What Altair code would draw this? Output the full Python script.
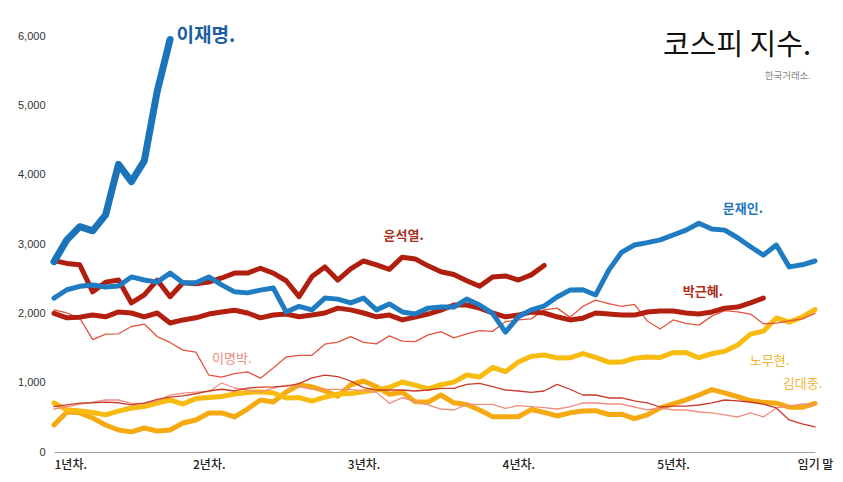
import altair as alt
import pandas as pd

# ---------------- data ----------------
TITLE = "코스피 지수."
SUBTITLE = "한국거래소."

X_TICKS = [0, 12, 24, 36, 48, 59]
X_TICK_LABELS = ["1년차.", "2년차.", "3년차.", "4년차.", "5년차.", "임기 말"]
Y_TICKS = [0, 1000, 2000, 3000, 4000, 5000, 6000]

ROH_TAEWOO = [620, 650, 690, 720, 750, 750, 700, 700, 740, 820,
              850, 865, 870, 995, 923, 894, 865, 923, 966, 945,
              904, 904, 904, 900, 885, 860, 702, 784, 726, 678,
              620, 606, 688, 688, 688, 630, 668, 654, 640, 620,
              650, 707, 707, 692, 692, 649, 606, 635, 606, 606,
              577, 563, 534, 505, 563, 505, 635, 663, 692, 678]

KIM_YOUNGSAM = [654, 680, 705, 710, 720, 710, 680, 705, 760, 790,
                810, 840, 880, 905, 880, 920, 935, 940, 950, 985,
                1070, 1110, 1087, 1024, 928, 894, 894, 894, 880, 894,
                918, 918, 976, 990, 942, 894, 880, 860, 880, 976,
                905, 822, 822, 779, 779, 736, 707, 649, 663, 663,
                678, 707, 750, 736, 721, 692, 635, 462, 404, 361]

KIM_DAEJUNG = [390, 577, 565, 490, 390, 317, 290, 346, 303, 317,
               418, 462, 563, 563, 505, 620, 750, 721, 865, 966,
               940, 880, 805, 970, 1024, 942, 832, 861, 726, 720,
               822, 710, 685, 605, 510, 510, 508, 612, 572, 520,
               565, 590, 596, 541, 546, 480, 535, 637, 693, 752,
               822, 900, 852, 797, 742, 716, 704, 646, 645, 700]

ROH_MOOHYUN = [707, 610, 590, 570, 535, 590, 635, 655, 707, 750,
               692, 770, 785, 800, 837, 858, 870, 851, 780, 785,
               735, 790, 835, 845, 868, 896, 932, 1010, 965, 911,
               970, 1008, 1110, 1083, 1220, 1158, 1297, 1379, 1399, 1357,
               1359, 1419, 1364, 1295, 1297, 1352, 1371, 1364, 1432, 1434,
               1360, 1417, 1452, 1542, 1700, 1743, 1933, 1873, 1946, 2055]

LEE_MYUNGBAK = [2050, 2005, 1930, 1620, 1700, 1705, 1810, 1845, 1665, 1580,
                1470, 1440, 1110, 1080, 1130, 1155, 1065, 1210, 1370, 1395,
                1395, 1555, 1585, 1665, 1580, 1560, 1675, 1598, 1592, 1690,
                1735, 1645, 1705, 1750, 1740, 1880, 1905, 1920, 2050, 2075,
                1945, 2100, 2190, 2140, 2100, 2130, 1890, 1775, 1905, 1855,
                1830, 1960, 2040, 2020, 1990, 1850, 1860, 1890, 1920, 2000]

PARK_GEUNHYE = [2000, 1935, 1945, 1975, 1950, 2020, 2005, 1950, 2005, 1860,
                1905, 1935, 1990, 2020, 2045, 2005, 1935, 1975, 1990, 1950,
                1975, 2005, 2075, 2050, 2005, 1950, 1975, 1905, 1945, 1990,
                2045, 2120, 2120, 2075, 2005, 1950, 1975, 2020, 2005, 1950,
                1905, 1930, 2005, 1990, 1975, 1975, 2020, 2035, 2035, 2005,
                1990, 2020, 2075, 2090, 2150, 2220]

MOON_JAEIN = [2220, 2340, 2390, 2410, 2380, 2395, 2525, 2480, 2450, 2580,
              2440, 2440, 2525, 2410, 2310, 2295, 2335, 2365, 2020, 2100,
              2050, 2220, 2205, 2150, 2220, 2050, 2135, 2020, 1990, 2075,
              2090, 2090, 2205, 2120, 2000, 1730, 1950, 2050, 2105, 2235,
              2335, 2340, 2265, 2620, 2880, 2985, 3020, 3060, 3130, 3200,
              3300, 3215, 3200, 3090, 2960, 2840, 2985, 2670, 2700, 2755]

YOON_SUKYEOL = [2760, 2720, 2700, 2310, 2450, 2480, 2150, 2265, 2480, 2240,
                2440, 2425, 2450, 2510, 2580, 2580, 2650, 2580, 2470, 2240,
                2530, 2670, 2480, 2640, 2755, 2700, 2635, 2810, 2785, 2685,
                2600, 2560, 2470, 2390, 2525, 2540, 2480, 2555, 2690]

LEE_JAEMYUNG = [2745, 3060, 3250, 3190, 3420, 4150, 3900, 4200, 5200, 5950]

# drawing order: bottom -> top
SERIES = [
    ("김대중", KIM_DAEJUNG),
    ("노무현", ROH_MOOHYUN),
    ("노태우", ROH_TAEWOO),
    ("김영삼", KIM_YOUNGSAM),
    ("이명박", LEE_MYUNGBAK),
    ("박근혜", PARK_GEUNHYE),
    ("윤석열", YOON_SUKYEOL),
    ("문재인", MOON_JAEIN),
    ("이재명", LEE_JAEMYUNG),
]

# series label texts and their anchors (month, index value)
LABEL_TEXT = ["이재명.", "문재인.", "윤석열.", "박근혜.", "이명박.", "노무현.", "김대중."]
LABEL_MONTH = [9.5, 51.85, 25.55, 48.75, 12.25, 53.95, 56.5]
LABEL_VALUE = [6000, 3505, 3116, 2308, 1341, 1313, 981]

# ---------------- styles ----------------
LINE_STYLE = {
    "노태우": ("#ee8e7f", 1.3),
    "김영삼": ("#c93a2b", 1.3),
    "이명박": ("#e2553f", 1.3),
    "김대중": ("#f5aa12", 5),
    "노무현": ("#f8bb10", 5),
    "박근혜": ("#b3200f", 5),
    "윤석열": ("#b01f0e", 5),
    "문재인": ("#1f7cc2", 5),
    "이재명": ("#1b74b9", 7),
}
LABEL_STYLE = {
    "이재명.": ("#1c5e9f", 19, "bold"),
    "문재인.": ("#2377bb", 13, "bold"),
    "윤석열.": ("#a7301e", 13, "bold"),
    "박근혜.": ("#ad2b1b", 13, "bold"),
    "이명박.": ("#e88a7c", 13, "normal"),
    "노무현.": ("#f1b22f", 13, "normal"),
    "김대중.": ("#f2b438", 13, "normal"),
}
KFONT = "Noto Sans CJK KR"

label_expr = " : ".join(
    f"datum.value == {v} ? '{t}'" for v, t in zip(X_TICKS, X_TICK_LABELS)
) + " : ''"

x_axis = alt.Axis(
    values=X_TICKS, labelExpr=label_expr, title=None, grid=False,
    ticks=False, tickSize=0, domain=True, domainColor="#a3a3a3", domainWidth=1,
    labelFont=KFONT, labelFontSize=12, labelFontWeight=500, labelColor="#222222",
    labelPadding=7, labelFlush=False, labelOverlap=False, labelBound=False,
    labelAlign={"condition": {"test": "datum.value == 0", "value": "left"}, "value": "center"},
)
y_axis = alt.Axis(
    values=Y_TICKS, format=",.0f", title=None, grid=False, ticks=False, tickSize=0,
    domain=False, labelFont="Liberation Sans", labelFontSize=11,
    labelColor="#333333", labelPadding=9,
)
x_scale = alt.Scale(domain=[0, 59], nice=False, zero=False)
y_scale = alt.Scale(domain=[0, 6000], nice=False)

X = alt.X("month:Q", scale=x_scale, axis=x_axis)
Y = alt.Y("value:Q", scale=y_scale, axis=y_axis)

layers = []
for name, vals in SERIES:
    df = pd.DataFrame({"month": list(range(len(vals))), "value": vals, "name": name})
    color, width = LINE_STYLE[name]
    layers.append(
        alt.Chart(df).mark_line(color=color, strokeWidth=width,
                                strokeCap="round", strokeJoin="round")
        .encode(x=X, y=Y)
    )

for text, m, v in zip(LABEL_TEXT, LABEL_MONTH, LABEL_VALUE):
    color, size, weight = LABEL_STYLE[text]
    df = pd.DataFrame({"month": [m], "value": [v], "label": [text]})
    layers.append(
        alt.Chart(df).mark_text(align="left", baseline="middle", font=KFONT,
                                fontSize=size, fontWeight=weight, color=color)
        .encode(x=X, y=Y, text="label:N")
    )

title_df = pd.DataFrame({"t": [TITLE]})
sub_df = pd.DataFrame({"t": [SUBTITLE]})
layers.append(
    alt.Chart(title_df).mark_text(align="right", baseline="middle", font=KFONT,
                                  fontSize=29, color="#111111")
    .encode(x=alt.value(757), y=alt.value(10), text="t:N")
)
layers.append(
    alt.Chart(sub_df).mark_text(align="right", baseline="middle", font=KFONT,
                                fontSize=9.5, color="#8a8a8a")
    .encode(x=alt.value(757), y=alt.value(40), text="t:N")
)

chart = alt.layer(*layers).properties(
    width=761, height=416,
    autosize=alt.AutoSizeParams(type="none"),
    padding={"left": 46, "top": 28, "right": 20, "bottom": 22},
    background="white",
).configure_view(stroke=None)

chart.save("out.html", embed_options={"renderer": "svg", "actions": False})
